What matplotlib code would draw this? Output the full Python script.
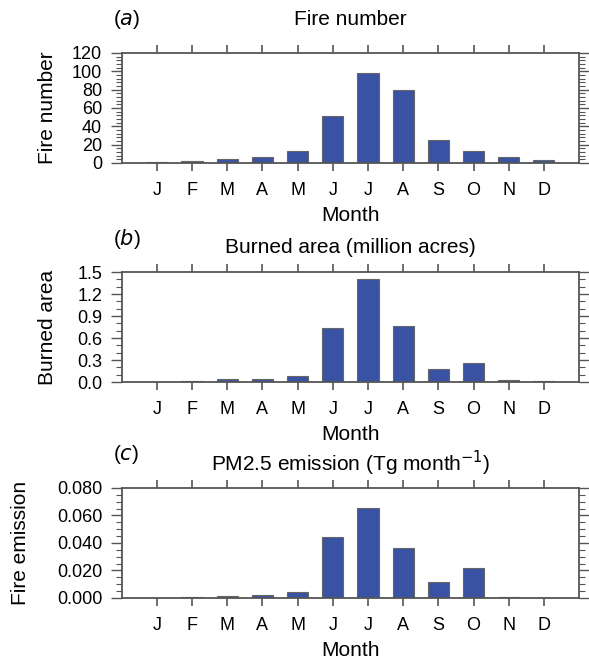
import matplotlib
matplotlib.use("Agg")
import matplotlib.pyplot as plt
from matplotlib.ticker import MultipleLocator, FormatStrFormatter
from matplotlib.transforms import offset_copy
import numpy as np

plt.rcParams['font.family'] = ['Liberation Sans', 'DejaVu Sans']

months = ['J', 'F', 'M', 'A', 'M', 'J', 'J', 'A', 'S', 'O', 'N', 'D']
fire_number = [1.1, 2.6, 4.4, 6.2, 13.6, 51.4, 98.7, 80.0, 24.6, 12.8, 6.2, 2.9]
burned_area = [0.005, 0.014, 0.037, 0.037, 0.087, 0.734, 1.40, 0.766, 0.183, 0.257, 0.023, 0.009]
pm25_emis = [0.0002, 0.0007, 0.0012, 0.0020, 0.0047, 0.0446, 0.0652, 0.0362, 0.0113, 0.0219, 0.0010, 0.0002]

panels = [
    ("a", "Fire number", "Fire number", fire_number, 120, 20, 4, "%d", 23.8, -0.142),
    ("b", "Burned area (million acres)", "Burned area", burned_area, 1.5, 0.3, 0.1, "%.1f", 18, -0.142),
    ("c", "PM2.5 emission (Tg month$^{-1}$)", "Fire emission", pm25_emis, 0.08, 0.02, 0.005, "%.3f", 17.5, -0.201),
]

fig = plt.figure(figsize=(5.89, 6.59), dpi=100)
bottoms = [0.7527, 0.4203, 0.0926]
frame = '#555555'
barc = '#3a52a3'
x = np.arange(1, 13)

for (let, title, ylab, vals, ymax, major, minor, fmt, tpad, ylx), b in zip(panels, bottoms):
    ax = fig.add_axes([0.2066, b, 0.7765, 0.1669])
    ax.bar(x, vals, width=0.6, color=barc, edgecolor='#666666', linewidth=0.8)
    ax.set_xlim(0, 13)
    ax.set_ylim(0, ymax)
    ax.set_xticks(x)
    ax.set_xticklabels(months)
    ax.yaxis.set_major_locator(MultipleLocator(major))
    ax.yaxis.set_minor_locator(MultipleLocator(minor))
    ax.yaxis.set_major_formatter(FormatStrFormatter(fmt))
    for s in ax.spines.values():
        s.set_color(frame)
        s.set_linewidth(1.3)
    ax.tick_params(axis='x', which='major', direction='out', length=6, width=1.2,
                   color=frame, top=True, bottom=True, labelsize=13, pad=8)
    ax.tick_params(axis='y', which='major', direction='out', length=8, width=1.0,
                   color=frame, left=True, right=True, labelsize=13, pad=6)
    ax.tick_params(axis='y', which='minor', direction='out', length=4, width=0.8,
                   color=frame, left=True, right=True)
    ax.set_xlabel("Month", fontsize=15, labelpad=5)
    ax.set_ylabel(ylab, fontsize=15)
    ax.yaxis.set_label_coords(ylx, 0.5)

    # panel title and letter above the frame
    ax.text(0.5, 1.0, title, fontsize=15, ha='center', va='center',
            transform=offset_copy(ax.transAxes, fig=fig, y=tpad, units='points'))
    ax.text(-0.02, 1.0, "(" + r"$\it{" + let + "}$" + ")", fontsize=15, ha='left', va='center',
            transform=offset_copy(ax.transAxes, fig=fig, y=23.8, units='points'))

fig.savefig("out.png", dpi=100)
